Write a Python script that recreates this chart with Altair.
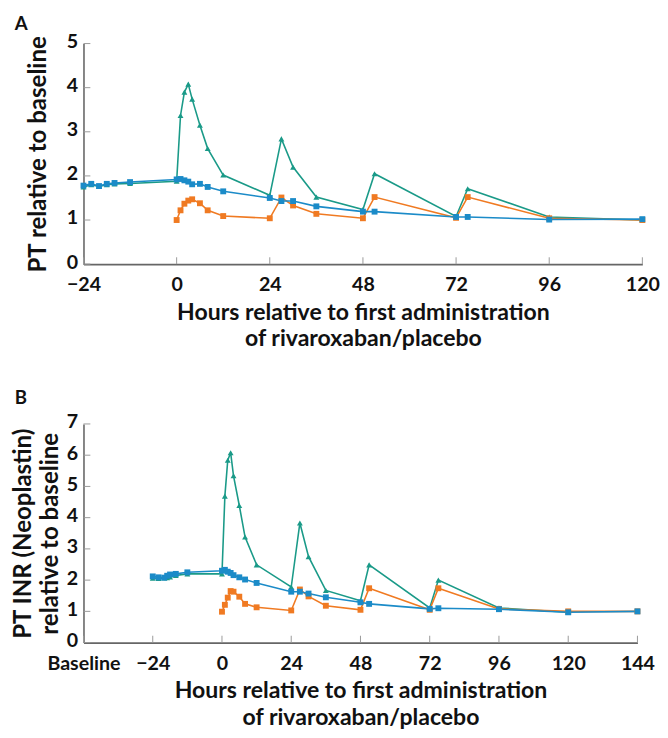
import altair as alt
import pandas as pd

# ---------------- Panel A data (PT relative to baseline) ----------------
a_blue_t = [-24, -22, -20, -18, -16, -12, 0, 1, 2, 3, 4, 6, 8, 12, 24, 27, 30, 36, 48, 51, 72, 75, 96, 120]
a_blue_v = [1.78, 1.82, 1.77, 1.82, 1.84, 1.86, 1.92, 1.93, 1.90, 1.87, 1.81, 1.82, 1.75, 1.65, 1.50, 1.43, 1.43, 1.31, 1.19, 1.19, 1.07, 1.07, 1.01, 1.02]
a_teal_t = [-24, -22, -20, -18, -16, -12, 0, 1, 2, 3, 4, 6, 8, 12, 24, 27, 30, 36, 48, 51, 72, 75, 96, 120]
a_teal_v = [1.75, 1.80, 1.76, 1.80, 1.82, 1.83, 1.88, 3.37, 3.90, 4.08, 3.74, 3.15, 2.62, 2.02, 1.56, 2.84, 2.20, 1.52, 1.24, 2.05, 1.08, 1.71, 1.07, 1.00]
a_orange_t = [0, 1, 2, 3, 4, 6, 8, 12, 24, 27, 30, 36, 48, 51, 72, 75, 96, 120]
a_orange_v = [1.00, 1.22, 1.37, 1.44, 1.47, 1.38, 1.22, 1.09, 1.04, 1.51, 1.33, 1.14, 1.04, 1.52, 1.05, 1.52, 1.04, 1.00]

# ---------------- Panel B data (PT INR Neoplastin relative to baseline) ----------------
b_blue_t = [-24, -22, -20, -19, -18, -16, -12, 0, 1, 2, 3, 4, 6, 8, 12, 24, 27, 30, 36, 48, 51, 72, 75, 96, 120, 144]
b_blue_v = [2.12, 2.09, 2.08, 2.14, 2.18, 2.20, 2.25, 2.30, 2.33, 2.27, 2.23, 2.16, 2.09, 2.02, 1.91, 1.63, 1.63, 1.57, 1.45, 1.29, 1.24, 1.08, 1.10, 1.07, 0.97, 1.00]
b_teal_t = [-24, -22, -20, -19, -18, -16, -12, 0, 1, 2, 3, 4, 6, 8, 12, 24, 27, 30, 36, 48, 51, 72, 75, 96, 120]
b_teal_v = [2.06, 2.05, 2.07, 2.08, 2.10, 2.15, 2.20, 2.20, 4.69, 5.84, 6.08, 5.34, 4.39, 3.38, 2.49, 1.78, 3.83, 2.75, 1.67, 1.34, 2.49, 1.11, 2.00, 1.11, 0.97]
b_orange_t = [0, 1, 2, 3, 4, 6, 8, 12, 24, 27, 30, 36, 48, 51, 72, 75, 96, 120, 144]
b_orange_v = [0.99, 1.21, 1.44, 1.65, 1.63, 1.47, 1.24, 1.13, 1.03, 1.70, 1.48, 1.18, 1.05, 1.74, 1.05, 1.74, 1.08, 1.00, 1.00]

series_names = ["teal", "orange", "blue"]
series_colors = ["#1a9a88", "#f07a22", "#1b8bc8"]
series_shapes = ["triangle-up", "square", "square"]

a_xticks = [-24, 0, 24, 48, 72, 96, 120]
a_yticks = [0, 1, 2, 3, 4, 5]
b_xticks = [-48, -24, 0, 24, 48, 72, 96, 120, 144]
b_yticks = [0, 1, 2, 3, 4, 5, 6, 7]

x_title = ["Hours relative to first administration", "of rivaroxaban/placebo"]
FONT = "Lato"
LBL = 20
XTTL = 23.5
YTTL = 24.5


def make_df(groups):
    rows = []
    for order, (name, ts, vs) in enumerate(groups):
        for t, v in zip(ts, vs):
            rows.append({"h": t, "v": v, "series": name, "o": order})
    return pd.DataFrame(rows)


def panel(df, label, xdom, xticks, ydom, yticks, W, H, ytitle, ytitle_pad, title_offset, xlabel_expr=None):
    xaxis_kwargs = dict(values=xticks, title=x_title, ticks=False, grid=False,
                        domainColor="#666", domainWidth=1.6, labelFont=FONT, labelFontSize=LBL,
                        labelFontWeight="bold", labelColor="#111", labelPadding=11,
                        labelFlush=False, labelOverlap=False,
                        titleFont=FONT, titleFontSize=XTTL, titleFontWeight="bold", titleColor="#111",
                        titlePadding=6, titleLineHeight=27.5)
    if xlabel_expr:
        xaxis_kwargs["labelExpr"] = xlabel_expr
    xenc = alt.X("h:Q", scale=alt.Scale(domain=xdom, nice=False, zero=False),
                 axis=alt.Axis(**xaxis_kwargs))
    yenc = alt.Y("v:Q", scale=alt.Scale(domain=ydom, nice=False),
                 axis=alt.Axis(values=yticks, title=ytitle, ticks=False, grid=False,
                               domainColor="#666", domainWidth=1.6, labelFont=FONT,
                               labelFontSize=LBL, labelFontWeight="bold", labelColor="#111",
                               labelPadding=6, labelOffset=-2, labelFlush=False, labelOverlap=False,
                               titleFont=FONT, titleFontSize=YTTL,
                               titleFontWeight="bold", titleColor="#111",
                               titlePadding=ytitle_pad, titleLineHeight=27))
    color = alt.Color("series:N", scale=alt.Scale(domain=series_names, range=series_colors), legend=None)
    shape = alt.Shape("series:N", scale=alt.Scale(domain=series_names, range=series_shapes), legend=None)

    base = alt.Chart(df)
    lines = base.mark_line(strokeWidth=1.6).encode(x=xenc, y=yenc, color=color, detail="series:N")
    pts = base.mark_point(filled=True, size=36, opacity=1).encode(
        x=xenc, y=yenc, color=color, shape=shape, order="o:Q")

    xt = alt.Chart(pd.DataFrame({"h": xticks})).mark_rule(color="#999", strokeWidth=1).encode(
        x=xenc, y=alt.value(H - 7), y2=alt.value(H))
    yt = alt.Chart(pd.DataFrame({"v": yticks})).mark_rule(color="#999", strokeWidth=1).encode(
        y=yenc, x=alt.value(0), x2=alt.value(7))

    return alt.layer(xt, yt, lines, pts).properties(
        width=W, height=H,
        title=alt.TitleParams(label, anchor="start", frame="group", dx=-70, font=FONT,
                              fontSize=19, fontWeight="bold", color="#111", offset=title_offset))


df_a = make_df([("teal", a_teal_t, a_teal_v), ("orange", a_orange_t, a_orange_v), ("blue", a_blue_t, a_blue_v)])
df_b = make_df([("teal", b_teal_t, b_teal_v), ("orange", b_orange_t, b_orange_v), ("blue", b_blue_t, b_blue_v)])

pa = panel(df_a, "A", [-24, 120], a_xticks, [0, 5], a_yticks, 570, 225,
           "PT relative to baseline", 16, -2)
pb = panel(df_b, "B", [-48, 144], b_xticks, [0, 7], b_yticks, 565, 223,
           ["PT INR (Neoplastin)", "relative to baseline"], 4, 4,
           xlabel_expr="datum.value == -48 ? 'Baseline' : datum.label")

chart = alt.vconcat(pa, pb, spacing=40).properties(
    padding={"left": 3, "top": 0, "right": 0, "bottom": 0}).configure_view(stroke=None)

chart.save("out.html", embed_options={"renderer": "svg", "actions": False})
